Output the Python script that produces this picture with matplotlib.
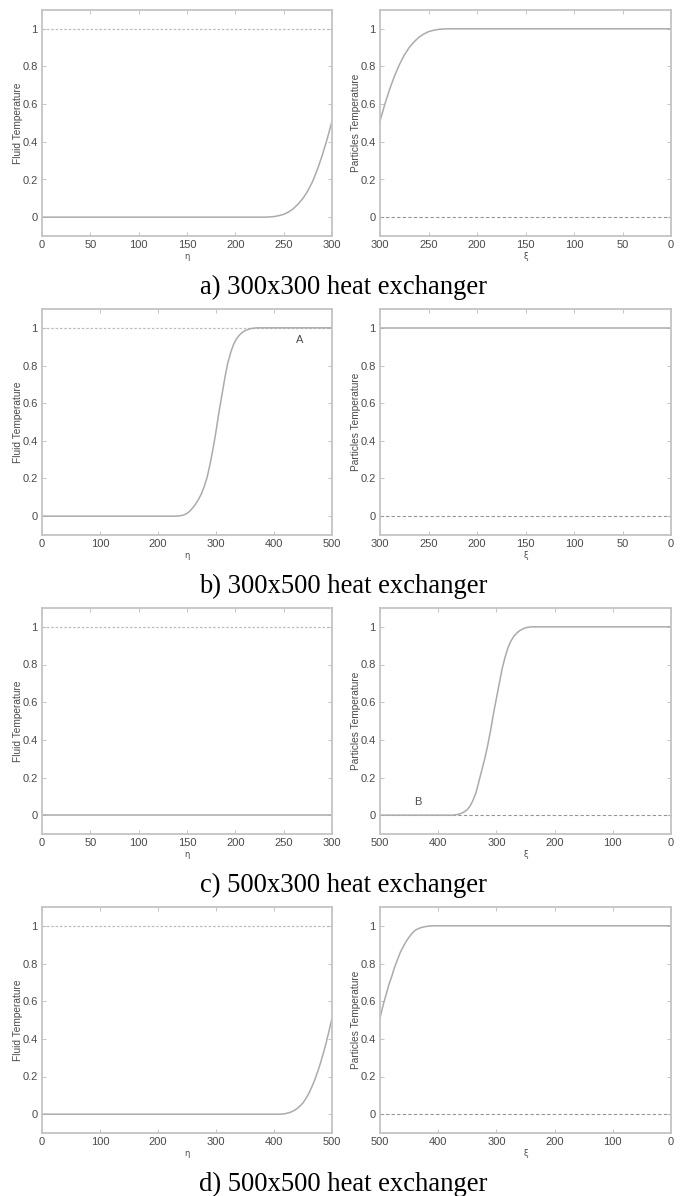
import matplotlib
matplotlib.use("Agg")
import matplotlib.pyplot as plt

# ---- data ----
# a) 300x300
eta_a = [0, 230, 235, 240, 245, 250, 255, 260, 265, 270, 275, 280, 285, 290, 295, 300]
Tf_a = [0, 0, 0.001, 0.003, 0.008, 0.015, 0.027, 0.045, 0.07, 0.10, 0.14, 0.19, 0.255, 0.33, 0.415, 0.51]
xi_a = [300, 295, 290, 285, 280, 275, 270, 265, 260, 255, 250, 245, 240, 235, 230, 0]
Tp_a = [0.51, 0.60, 0.68, 0.75, 0.81, 0.86, 0.90, 0.93, 0.955, 0.972, 0.985, 0.992, 0.997, 0.999, 1.0, 1.0]
# b) 300x500
eta_b = [0, 230, 235, 240, 245, 250, 255, 260, 265, 270, 275, 280, 285, 290, 295, 300,
         305, 310, 315, 320, 325, 330, 335, 340, 345, 350, 355, 360, 365, 370, 500]
Tf_b = [0, 0, 0.001, 0.003, 0.007, 0.015, 0.027, 0.045, 0.065, 0.09, 0.12, 0.16, 0.21, 0.28, 0.36, 0.45,
        0.55, 0.64, 0.73, 0.81, 0.865, 0.91, 0.94, 0.96, 0.975, 0.985, 0.991, 0.996, 0.998, 1.0, 1.0]
xi_b = [300, 0]
Tp_b = [1.0, 1.0]
# c) 500x300
eta_c = [0, 300]
Tf_c = [0, 0]
xi_c = [500, 375, 370, 365, 360, 355, 350, 345, 340, 335, 330, 325, 320, 315, 310, 305, 300,
        295, 290, 285, 280, 275, 270, 265, 260, 255, 250, 245, 240, 0]
Tp_c = [0, 0, 0.002, 0.005, 0.01, 0.018, 0.03, 0.05, 0.08, 0.12, 0.18, 0.24, 0.30, 0.37, 0.45, 0.54, 0.62,
        0.70, 0.78, 0.84, 0.89, 0.925, 0.95, 0.967, 0.98, 0.988, 0.995, 0.998, 1.0, 1.0]
# d) 500x500
eta_d = [0, 410, 415, 420, 425, 430, 435, 440, 445, 450, 455, 460, 465, 470, 475, 480, 485, 490, 495, 500]
Tf_d = [0, 0, 0.001, 0.003, 0.007, 0.012, 0.02, 0.03, 0.044, 0.06, 0.083, 0.11, 0.143, 0.18, 0.223,
        0.27, 0.323, 0.38, 0.443, 0.51]
xi_d = [500, 495, 490, 485, 480, 475, 470, 465, 460, 455, 450, 445, 440, 435, 430, 425, 420, 415, 410, 0]
Tp_d = [0.51, 0.575, 0.63, 0.685, 0.73, 0.78, 0.82, 0.86, 0.89, 0.918, 0.94, 0.96, 0.975, 0.984, 0.99,
        0.994, 0.997, 0.999, 1.0, 1.0]

eta_max = [300, 500, 300, 500]
xi_max = [300, 300, 500, 500]
eta_ticks = [[0, 50, 100, 150, 200, 250, 300], [0, 100, 200, 300, 400, 500],
             [0, 50, 100, 150, 200, 250, 300], [0, 100, 200, 300, 400, 500]]
xi_ticks = [[300, 250, 200, 150, 100, 50, 0], [300, 250, 200, 150, 100, 50, 0],
            [500, 400, 300, 200, 100, 0], [500, 400, 300, 200, 100, 0]]
y_ticks = [0, 0.2, 0.4, 0.6, 0.8, 1]
y_ticklabels = ["0", "0.2", "0.4", "0.6", "0.8", "1"]
captions = ["a) 300x300 heat exchanger", "b) 300x500 heat exchanger",
            "c) 500x300 heat exchanger", "d) 500x500 heat exchanger"]
fluid = [(eta_a, Tf_a), (eta_b, Tf_b), (eta_c, Tf_c), (eta_d, Tf_d)]
part = [(xi_a, Tp_a), (xi_b, Tp_b), (xi_c, Tp_c), (xi_d, Tp_d)]

W, H = 686, 1196
fig = plt.figure(figsize=(W / 100, H / 100), dpi=100)

frame_col = "#c4c4c4"
line_col = "#ababab"
text_col = "#4a4a4a"
tick_font = "Liberation Sans"

def style(ax):
    for s in ax.spines.values():
        s.set_color(frame_col)
        s.set_linewidth(1.3)
    ax.tick_params(direction="in", top=True, right=True, length=3, width=0.7,
                   colors=frame_col, labelcolor=text_col, labelsize=8, pad=3)
    ax.set_ylim(-0.1, 1.1)
    ax.set_yticks(y_ticks)
    ax.set_yticklabels(y_ticklabels, fontfamily=tick_font)

row_h = 299
for i in range(4):
    top = 10 + i * row_h
    bottom = top + 226
    yb = 1 - bottom / H
    h = 226 / H
    axl = fig.add_axes([42 / W, yb, 290 / W, h])
    axr = fig.add_axes([380 / W, yb, 291 / W, h])

    # left: fluid temperature
    axl.axhline(1, color="#bdbdbd", lw=0.9, ls=(0, (2, 1.5)))
    x, y = fluid[i]
    axl.plot(x, y, color=line_col, lw=1.1)
    axl.set_xlim(0, eta_max[i])
    axl.set_xticks(eta_ticks[i])
    axl.set_xticklabels([str(t) for t in eta_ticks[i]], fontfamily=tick_font)
    style(axl)
    axl.set_ylabel("Fluid Temperature", fontsize=7.3, color=text_col, fontfamily=tick_font)
    axl.yaxis.set_label_coords(-0.066, 0.5)
    axl.set_xlabel("η", fontsize=6, color=text_col, labelpad=1)

    # right: particles temperature
    axr.axhline(0, color="#959595", lw=0.8, ls=(0, (3, 2)))
    x, y = part[i]
    axr.plot(x, y, color=line_col, lw=1.1)
    axr.set_xlim(xi_max[i], 0)
    axr.set_xticks(xi_ticks[i])
    axr.set_xticklabels([str(t) for t in xi_ticks[i]], fontfamily=tick_font)
    style(axr)
    axr.set_ylabel("Particles Temperature", fontsize=7.3, color=text_col, fontfamily=tick_font)
    axr.yaxis.set_label_coords(-0.065, 0.5)
    axr.set_xlabel("ξ", fontsize=6, color=text_col, labelpad=1)

    if i == 1:
        axl.text(445, 0.935, "A", fontsize=8, color=text_col, ha="center", va="center",
                 fontfamily=tick_font)
    if i == 2:
        axr.text(435, 0.07, "B", fontsize=8, color=text_col, ha="center", va="center",
                 fontfamily=tick_font)

    fig.text(0.5, 1 - (287 + i * row_h) / H, captions[i], ha="center", va="center",
             fontsize=19.2, fontfamily="Liberation Serif", color="#000000")

fig.savefig("out.png", dpi=100, facecolor="white")
